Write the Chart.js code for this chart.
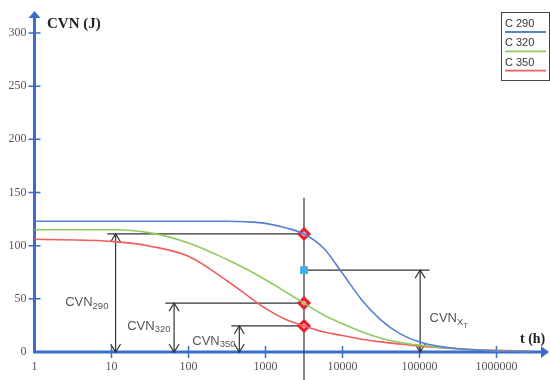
<!DOCTYPE html>
<html>
<head>
<meta charset="utf-8">
<script src="https://cdn.jsdelivr.net/npm/chart.js@4.4.0/dist/chart.umd.min.js"></script>
<style>
  html, body { margin: 0; padding: 0; background: #fff; }
</style>
</head>
<body>
<canvas id="cvnChart" width="550" height="380"></canvas>
<script>
// ageing time t (h), log axis
const hours = [1, 10, 32, 100, 316, 562, 1000, 1778, 3162, 5623, 10000, 17783, 31623, 56234, 100000, 316228, 1000000, 2700000];
// impact energy CVN (J) per curve
const cvn290 = [123, 123, 123, 123, 123, 122.5, 121, 117, 111, 98, 74, 49, 30, 17, 9.5, 3, 1, 0.5];
const cvn320 = [115, 115, 112, 102.5, 87, 78, 68, 57, 46, 35, 26.5, 19, 13, 9, 6.5, 3, 1.2, 0.5];
const cvn350 = [106, 104, 99.5, 90, 67, 54, 41, 31, 24.5, 19, 15.5, 12, 9.5, 7.5, 5.5, 3, 1.5, 1];
const seriesNames = ['C 290', 'C 320', 'C 350'];

const xTicks = [1, 10, 100, 1000, 10000, 100000, 1000000];
const yTicks = [0, 50, 100, 150, 200, 250, 300];

// read-off at the service time
const markTime = 3162;
const markValues = [111, 46, 24.5];
const targetValue = 77;

// reference levels: value, line start / end (h), arrow position (h)
const refLevel = [111, 46, 24.5, 77];
const refFrom = [8.8, 50, 360, 3162];
const refTo = [3162, 3162, 3162, 135000];
const refArrowAt = [11.3, 65, 457, 102000];
const refSub = ['290', '320', '350', 'X'];

const colors = ['#5580d4', '#8fcb5c', '#f45c5c'];
const axisBlue = '#3b6cc8';

function series(vals) {
  return hours.map((t, i) => ({ x: t, y: vals[i] }));
}

function arrowHead(ctx, x, y, dir) {
  // open chevron, dir = -1 points up, 1 points down
  ctx.beginPath();
  ctx.moveTo(x - 5, y - dir * 8);
  ctx.lineTo(x, y);
  ctx.lineTo(x + 5, y - dir * 8);
  ctx.stroke();
}

function subLabel(ctx, px, py, main, sub, subsub) {
  ctx.fillStyle = '#555';
  ctx.textAlign = 'left';
  ctx.textBaseline = 'alphabetic';
  ctx.font = '13px "Liberation Sans", Arial, sans-serif';
  ctx.fillText(main, px, py);
  let w = ctx.measureText(main).width;
  ctx.font = '9.5px "Liberation Sans", Arial, sans-serif';
  ctx.fillText(sub, px + w, py + 2.5);
  if (subsub) {
    w += ctx.measureText(sub).width;
    ctx.font = '7.5px "Liberation Sans", Arial, sans-serif';
    ctx.fillText(subsub, px + w, py + 5.5);
  }
}

const decor = {
  id: 'decor',
  beforeDatasetsDraw(chart) {
    const { ctx, scales: { x, y } } = chart;
    const y0 = y.getPixelForValue(0);
    const x0 = x.getPixelForValue(1);
    ctx.save();

    // axes with arrows
    ctx.strokeStyle = axisBlue;
    ctx.fillStyle = axisBlue;
    ctx.lineWidth = 3;
    ctx.beginPath();
    ctx.moveTo(x0, y0 + 1.5);
    ctx.lineTo(x0, 16);
    ctx.moveTo(x0 - 1.5, y0);
    ctx.lineTo(543, y0);
    ctx.stroke();
    ctx.beginPath();
    ctx.moveTo(x0, 11);
    ctx.lineTo(x0 - 6, 18);
    ctx.lineTo(x0 + 6, 18);
    ctx.closePath();
    ctx.fill();
    ctx.beginPath();
    ctx.moveTo(549, y0);
    ctx.lineTo(541, y0 - 6);
    ctx.lineTo(541, y0 + 6);
    ctx.closePath();
    ctx.fill();

    // tick marks
    ctx.lineWidth = 1.5;
    ctx.beginPath();
    yTicks.forEach(v => {
      if (v === 0) return;
      const py = y.getPixelForValue(v);
      ctx.moveTo(x0 - 6, py);
      ctx.lineTo(x0 + 6, py);
    });
    xTicks.forEach(v => {
      if (v === 1) return;
      const px = x.getPixelForValue(v);
      ctx.moveTo(px, y0 - 6);
      ctx.lineTo(px, y0 + 6);
    });
    ctx.stroke();

    // read-off lines
    ctx.strokeStyle = '#333';
    ctx.lineWidth = 1.2;
    const vx = x.getPixelForValue(markTime);
    ctx.beginPath();
    ctx.moveTo(vx, y.getPixelForValue(145));
    ctx.lineTo(vx, chart.height);
    ctx.stroke();
    refLevel.forEach((lv, i) => {
      const py = y.getPixelForValue(lv);
      ctx.beginPath();
      ctx.moveTo(x.getPixelForValue(refFrom[i]), py);
      ctx.lineTo(x.getPixelForValue(refTo[i]), py);
      const ax = x.getPixelForValue(refArrowAt[i]);
      ctx.moveTo(ax, py);
      ctx.lineTo(ax, y0);
      ctx.stroke();
      arrowHead(ctx, ax, py, -1);
      arrowHead(ctx, ax, y0, 1);
    });
    ctx.restore();
  },
  afterDraw(chart) {
    const { ctx, scales: { x, y } } = chart;
    ctx.save();

    // axis titles
    ctx.fillStyle = '#222';
    ctx.textBaseline = 'alphabetic';
    ctx.textAlign = 'left';
    ctx.font = 'bold 15px "Liberation Serif", "Times New Roman", serif';
    ctx.fillText('CVN (J)', 47, 28);
    ctx.font = 'bold 14px "Liberation Serif", "Times New Roman", serif';
    ctx.fillText('t (h)', 520, 343);

    // energy labels
    subLabel(ctx, x.getPixelForValue(2.5), y.getPixelForValue(43.2), 'CVN', refSub[0]);
    subLabel(ctx, x.getPixelForValue(16), y.getPixelForValue(20.7), 'CVN', refSub[1]);
    subLabel(ctx, x.getPixelForValue(112), y.getPixelForValue(6.6), 'CVN', refSub[2]);
    subLabel(ctx, x.getPixelForValue(135000), y.getPixelForValue(28.2), 'CVN', refSub[3], 'T');

    // legend box
    ctx.strokeStyle = '#444';
    ctx.lineWidth = 1;
    ctx.strokeRect(501.5, 12.5, 48, 68);
    ctx.font = '11px "Liberation Sans", Arial, sans-serif';
    seriesNames.forEach((name, i) => {
      const by = 27 + i * 19.3;
      ctx.fillStyle = '#333';
      ctx.fillText(name, 505, by);
      ctx.strokeStyle = colors[i];
      ctx.lineWidth = 1.8;
      ctx.beginPath();
      ctx.moveTo(505, by + 5);
      ctx.lineTo(546, by + 5);
      ctx.stroke();
    });
    ctx.restore();
  }
};

const curveSets = [cvn290, cvn320, cvn350].map((vals, i) => ({
  label: seriesNames[i],
  data: series(vals),
  borderColor: colors[i],
  borderWidth: 1.6,
  pointRadius: 0,
  cubicInterpolationMode: 'monotone',
  fill: false,
  clip: false
}));

const markerSet = {
  label: 'marks',
  data: markValues.map(v => ({ x: markTime, y: v })),
  showLine: false,
  pointStyle: 'rectRot',
  pointRadius: 5,
  pointBorderWidth: 3,
  pointBorderColor: '#e8222c',
  pointBackgroundColor: '#ffb0b0'
};

const targetSet = {
  label: 'target',
  data: [{ x: markTime, y: targetValue }],
  showLine: false,
  pointStyle: 'rect',
  pointRadius: 5.5,
  pointBorderWidth: 0,
  pointBackgroundColor: '#3ab4e4'
};

new Chart(document.getElementById('cvnChart'), {
  type: 'line',
  data: { datasets: [...curveSets, markerSet, targetSet] },
  options: {
    responsive: false,
    animation: false,
    layout: { padding: { left: 0, top: 33, right: 15, bottom: 0 } },
    plugins: { legend: { display: false }, tooltip: { enabled: false } },
    scales: {
      x: {
        type: 'logarithmic',
        min: 1,
        max: 3162278,
        border: { display: false },
        grid: { display: false },
        afterFit: s => { s.height = 28; },
        afterBuildTicks: s => { s.ticks = xTicks.map(v => ({ value: v })); },
        ticks: {
          autoSkip: false,
          maxRotation: 0,
          padding: 0,
          color: '#555',
          font: { family: '"Liberation Serif", "Times New Roman", serif', size: 12 },
          callback: v => String(v)
        }
      },
      y: {
        min: 0,
        max: 300,
        border: { display: false },
        grid: { display: false },
        afterFit: s => { s.width = 34.5; },
        afterBuildTicks: s => { s.ticks = yTicks.map(v => ({ value: v })); },
        ticks: {
          padding: 0,
          color: '#555',
          font: { family: '"Liberation Serif", "Times New Roman", serif', size: 12 }
        }
      }
    }
  },
  plugins: [decor]
});
</script>
</body>
</html>
